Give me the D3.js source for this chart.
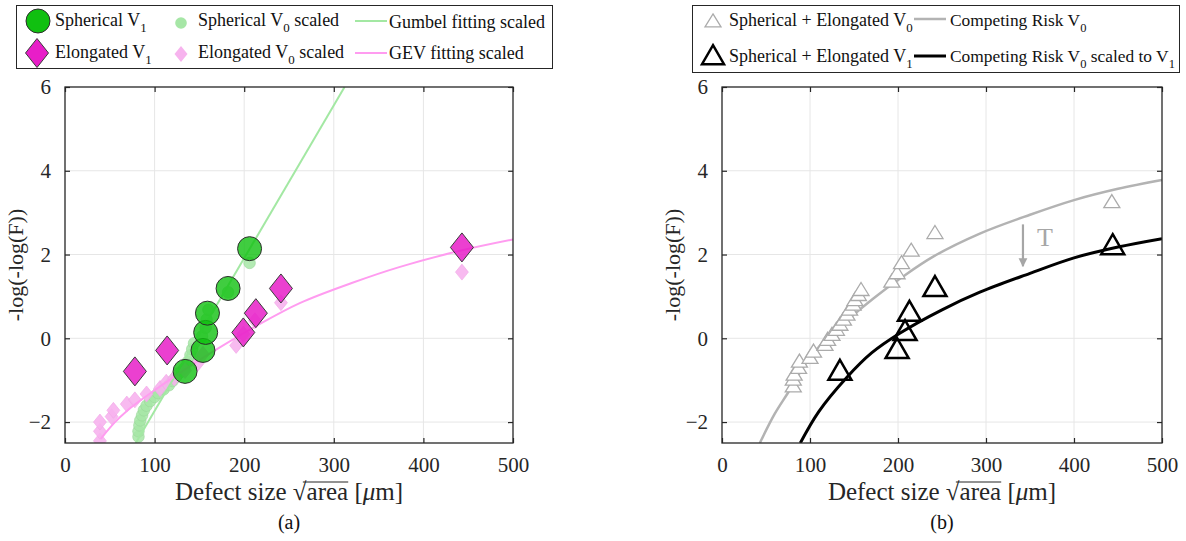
<!DOCTYPE html>
<html>
<head>
<meta charset="utf-8">
<script src="https://cdn.jsdelivr.net/npm/d3@7"></script>
<style>
  body { margin: 0; background: #fff; }
  svg, svg text { font-family: "Liberation Serif", "Times New Roman", "DejaVu Serif", serif; }
</style>
</head>
<body>
<div id="container"></div>
<script>
(function(){
//axis ticks
var xTicks = [0, 100, 200, 300, 400, 500];
var yTicks = [-2, 0, 2, 4, 6];

//panel (a) points: [defect size, -log(-log(F))]
var sphericalV1 = [[134,-0.79],[154,-0.29],[157,0.14],[159,0.6],[182,1.19],[206,2.14]];
var elongatedV1 = [[78,-0.79],[114,-0.29],[199,0.14],[213,0.6],[241,1.19],[443,2.17]];
var sphericalV0 = [[82,-2.35],[82,-2.22],[83,-2.08],[84,-1.96],[86,-1.84],[88,-1.72],[91,-1.61],
    [95,-1.5],[100,-1.4],[104,-1.31],[110,-1.22],[116,-1.12],[120,-1.02],[124,-0.92],[128,-0.82],
    [133,-0.72],[137,-0.56],[140,-0.4],[142,-0.26],[144,-0.12],[153,0.05],[157,0.25],[158,0.45],
    [160,0.68],[182,1.1],[206,1.8]];
var elongatedV0 = [[39,-2.45],[39,-2.22],[39,-2.0],[52,-1.87],[54,-1.72],[69,-1.57],[78,-1.47],
    [91,-1.33],[106,-1.2],[113,-1.05],[122,-0.95],[134,-0.77],[148,-0.6],[154,-0.38],[191,-0.17],
    [199,0.1],[212,0.42],[241,0.85],[443,1.58]];
var gumbelFit = [[79,-2.5],[312,6]];
var gevFit = [[40,-2.4],[55,-2.02],[70,-1.72],[85,-1.47],[106,-1.15],[130,-0.8],[165,-0.32],
    [214,0.3],[262,0.84],[320,1.32],[373,1.7],[443,2.1],[500,2.36]];

//panel (b) points
var combinedV0 = [[81,-1.16],[81,-1.0],[82,-0.88],[87,-0.72],[88,-0.57],[100,-0.48],[104,-0.33],
    [117,-0.17],[120,-0.05],[125,0.07],[130,0.19],[134,0.31],[138,0.43],[142,0.55],[145,0.67],
    [149,0.79],[151,0.9],[155,1.02],[158,1.14],[193,1.34],[199,1.54],[204,1.78],[215,2.08],
    [242,2.5],[443,3.24]];
var combinedV1 = [[134,-0.81],[199,-0.29],[208,0.14],[213,0.6],[242,1.19],[444,2.19]];
var competingV0 = [[43,-2.5],[60,-1.8],[75,-1.3],[100,-0.45],[130,0.2],[172,0.95],[204,1.45],
    [240,1.95],[293,2.5],[350,2.95],[400,3.3],[450,3.57],[500,3.78]];
var competingV1 = [[89,-2.5],[110,-1.75],[142,-0.93],[170,-0.35],[202,0.12],[250,0.68],[293,1.1],
    [350,1.55],[400,1.92],[450,2.18],[500,2.38]];
var shiftArrow = {x: 342, y0: 2.72, y1: 1.72, label: "T", lx: 358, ly: 2.2};

var width = 1186, height = 541;
var serif = "Liberation Serif, Times New Roman, DejaVu Serif, serif";
var svg = d3.select("#container").append("svg")
    .attr("width", width).attr("height", height)
    .attr("font-family", serif);

var top = 87, bottom = 443;
var panels = [{left: 65, right: 513, tag: "(a)"}, {left: 722, right: 1162, tag: "(b)"}];

var greenBig = "#10c010", magentaBig = "#e81ec8", greenSmall = "#a6e6a6", pinkSmall = "#f7b3ee";

function diamond(w, h){
    return "M0," + (-h) + "L" + w + ",0L0," + h + "L" + (-w) + ",0Z";
}
function triangle(w, h){
    return "M0," + (-h * 0.62) + "L" + w + "," + (h * 0.38) + "L" + (-w) + "," + (h * 0.38) + "Z";
}

//draw axes frame, grid, ticks and labels for one panel
function setPanel(p, id){
    var x = d3.scaleLinear().domain([0, 500]).range([p.left, p.right]);
    var y = d3.scaleLinear().domain([-2.5, 6]).range([bottom, top]);
    var g = svg.append("g");

    g.selectAll(".gx").data(xTicks.slice(1, -1)).enter().append("line")
        .attr("x1", x).attr("x2", x).attr("y1", top).attr("y2", bottom)
        .attr("stroke", "#e6e6e6").attr("stroke-width", 1);
    g.selectAll(".gy").data(yTicks.slice(0, -1)).enter().append("line")
        .attr("y1", y).attr("y2", y).attr("x1", p.left).attr("x2", p.right)
        .attr("stroke", "#e6e6e6").attr("stroke-width", 1);

    svg.append("clipPath").attr("id", "clip" + id).append("rect")
        .attr("x", p.left).attr("y", top).attr("width", p.right - p.left).attr("height", bottom - top);

    var plot = svg.append("g");
    var plotClip = svg.append("g").attr("clip-path", "url(#clip" + id + ")");

    var frame = svg.append("g");
    frame.append("g").attr("transform", "translate(0," + bottom + ")")
        .call(d3.axisBottom(x).tickValues(xTicks).tickSizeInner(-5).tickSizeOuter(0).tickPadding(14));
    frame.append("g").attr("transform", "translate(0," + top + ")")
        .call(d3.axisTop(x).tickValues(xTicks).tickSizeInner(-5).tickSizeOuter(0).tickFormat(""));
    frame.append("g").attr("transform", "translate(" + p.left + ",0)")
        .call(d3.axisLeft(y).tickValues(yTicks).tickSizeInner(-5).tickSizeOuter(0).tickPadding(14));
    frame.append("g").attr("transform", "translate(" + p.right + ",0)")
        .call(d3.axisRight(y).tickValues(yTicks).tickSizeInner(-5).tickSizeOuter(0).tickFormat(""));
    frame.selectAll(".domain").remove();
    frame.selectAll("g").attr("font-family", serif);
    frame.selectAll("line").attr("stroke", "#262626").attr("stroke-width", 1.2);
    frame.selectAll("text").attr("font-size", 21).attr("fill", "#262626");
    frame.append("rect").attr("x", p.left).attr("y", top)
        .attr("width", p.right - p.left).attr("height", bottom - top)
        .attr("fill", "none").attr("stroke", "#262626").attr("stroke-width", 1.3);

    //y label
    frame.append("text")
        .attr("transform", "translate(" + (p.left - 42) + "," + ((top + bottom) / 2) + ") rotate(-90)")
        .attr("text-anchor", "middle").attr("font-size", 22).attr("fill", "#262626")
        .text("-log(-log(F))");
    //x label, with a drawn bar over "area" for the square root
    var xl = frame.append("text")
        .attr("x", (p.left + p.right) / 2).attr("y", 500)
        .attr("text-anchor", "middle").attr("font-size", 25).attr("fill", "#262626");
    xl.append("tspan").text("Defect size \u221Aarea [");
    xl.append("tspan").attr("font-style", "italic").text("\u03BC");
    xl.append("tspan").text("m]");
    var node = xl.node();
    var x0 = node.getStartPositionOfChar(12).x + 10, x1 = node.getEndPositionOfChar(16).x;
    frame.append("line").attr("x1", x0).attr("x2", x1).attr("y1", 482).attr("y2", 482)
        .attr("stroke", "#262626").attr("stroke-width", 1.2);

    svg.append("text").attr("x", (p.left + p.right) / 2).attr("y", 529)
        .attr("text-anchor", "middle").attr("font-size", 20).attr("fill", "#111")
        .text(p.tag);

    return {x: x, y: y, plot: plot, clip: plotClip};
}

var a = setPanel(panels[0], "a");
var b = setPanel(panels[1], "b");

var line = function(sc){
    return d3.line().x(function(d){ return sc.x(d[0]); }).y(function(d){ return sc.y(d[1]); })
        .curve(d3.curveCatmullRom.alpha(0.5));
};

//---------- panel (a)
a.clip.selectAll(".sV0").data(sphericalV0).enter().append("circle")
    .attr("cx", function(d){ return a.x(d[0]); }).attr("cy", function(d){ return a.y(d[1]); })
    .attr("r", 5.8).attr("fill", greenSmall).attr("fill-opacity", 0.85)
    .attr("stroke", "#9ad69a").attr("stroke-width", 0.6);
a.clip.selectAll(".eV0").data(elongatedV0).enter().append("path")
    .attr("transform", function(d){ return "translate(" + a.x(d[0]) + "," + a.y(d[1]) + ")"; })
    .attr("d", diamond(6.5, 8)).attr("fill", pinkSmall).attr("fill-opacity", 0.9)
    .attr("stroke", "#f0a6e6").attr("stroke-width", 0.6);
a.clip.append("path").datum(gumbelFit).attr("d", line(a))
    .attr("fill", "none").attr("stroke", "#a3e8a3").attr("stroke-width", 2);
a.clip.append("path").datum(gevFit).attr("d", line(a))
    .attr("fill", "none").attr("stroke", "#ff9cf0").attr("stroke-width", 2);
a.clip.selectAll(".sV1").data(sphericalV1).enter().append("circle")
    .attr("cx", function(d){ return a.x(d[0]); }).attr("cy", function(d){ return a.y(d[1]); })
    .attr("r", 12).attr("fill", greenBig).attr("fill-opacity", 0.8)
    .attr("stroke", "#2d2d2d").attr("stroke-width", 1);
a.clip.selectAll(".eV1").data(elongatedV1).enter().append("path")
    .attr("transform", function(d){ return "translate(" + a.x(d[0]) + "," + a.y(d[1]) + ")"; })
    .attr("d", diamond(11.5, 14.5)).attr("fill", magentaBig).attr("fill-opacity", 0.85)
    .attr("stroke", "#3a3a3a").attr("stroke-width", 1);

//---------- panel (b)
b.clip.append("path").datum(competingV0).attr("d", line(b))
    .attr("fill", "none").attr("stroke", "#b3b3b3").attr("stroke-width", 2.5);
b.clip.append("path").datum(competingV1).attr("d", line(b))
    .attr("fill", "none").attr("stroke", "#000").attr("stroke-width", 3);
b.clip.selectAll(".cV0").data(combinedV0).enter().append("path")
    .attr("transform", function(d){ return "translate(" + b.x(d[0]) + "," + b.y(d[1]) + ")"; })
    .attr("d", triangle(8, 13)).attr("fill", "#fff").attr("stroke", "#ababab").attr("stroke-width", 1.3);
b.clip.selectAll(".cV1").data(combinedV1).enter().append("path")
    .attr("transform", function(d){ return "translate(" + b.x(d[0]) + "," + b.y(d[1]) + ")"; })
    .attr("d", triangle(11.5, 20)).attr("fill", "none").attr("stroke", "#000").attr("stroke-width", 2.5);

//arrow for the shift T
svg.append("defs").append("marker").attr("id", "arrowhead")
    .attr("viewBox", "0 0 10 10").attr("refX", 9).attr("refY", 5)
    .attr("markerWidth", 4).attr("markerHeight", 5).attr("orient", "auto")
    .append("path").attr("d", "M0,0L10,5L0,10Z").attr("fill", "#a6a6a6");
b.plot.append("line")
    .attr("x1", b.x(shiftArrow.x)).attr("x2", b.x(shiftArrow.x))
    .attr("y1", b.y(shiftArrow.y0)).attr("y2", b.y(shiftArrow.y1))
    .attr("stroke", "#a6a6a6").attr("stroke-width", 2.2).attr("marker-end", "url(#arrowhead)");
b.plot.append("text").attr("x", b.x(shiftArrow.lx)).attr("y", b.y(shiftArrow.ly))
    .attr("font-size", 26).attr("fill", "#a6a6a6").text(shiftArrow.label);

//---------- legends
function subText(g, x, y, main, sub, tail, fs){
    fs = fs || 18;
    var t = g.append("text").attr("x", x).attr("y", y).attr("font-size", fs).attr("fill", "#111");
    t.append("tspan").text(main);
    t.append("tspan").attr("font-size", fs * 0.72).attr("dy", 6).text(sub);
    if (tail) t.append("tspan").attr("dy", -6).text(tail);
    return t;
}

var la = svg.append("g");
la.append("rect").attr("x", 16.5).attr("y", 5.5).attr("width", 536).attr("height", 63)
    .attr("fill", "#fff").attr("stroke", "#262626").attr("stroke-width", 1);
la.append("circle").attr("cx", 38).attr("cy", 21).attr("r", 12)
    .attr("fill", greenBig).attr("stroke", "#2d2d2d");
la.append("path").attr("transform", "translate(37,53)").attr("d", diamond(11.5, 14.5))
    .attr("fill", magentaBig).attr("stroke", "#3a3a3a");
la.append("circle").attr("cx", 181).attr("cy", 23).attr("r", 5.8).attr("fill", greenSmall);
la.append("path").attr("transform", "translate(181,54)").attr("d", diamond(6.5, 8)).attr("fill", pinkSmall);
la.append("line").attr("x1", 355).attr("x2", 387).attr("y1", 21).attr("y2", 21)
    .attr("stroke", "#a3e8a3").attr("stroke-width", 2);
la.append("line").attr("x1", 355).attr("x2", 387).attr("y1", 53).attr("y2", 53)
    .attr("stroke", "#ff9cf0").attr("stroke-width", 2);
subText(la, 55, 26, "Spherical V", "1");
subText(la, 55, 58, "Elongated V", "1");
subText(la, 198, 26, "Spherical V", "0", " scaled");
subText(la, 198, 58, "Elongated V", "0", " scaled");
la.append("text").attr("x", 389).attr("y", 28).attr("font-size", 18).attr("fill", "#111").text("Gumbel fitting scaled");
la.append("text").attr("x", 389).attr("y", 59).attr("font-size", 18).attr("fill", "#111").text("GEV fitting scaled");

var lb = svg.append("g");
lb.append("rect").attr("x", 692.5).attr("y", 5.5).attr("width", 487).attr("height", 67)
    .attr("fill", "#fff").attr("stroke", "#262626").attr("stroke-width", 1);
lb.append("path").attr("transform", "translate(713,22)").attr("d", triangle(8, 13))
    .attr("fill", "#fff").attr("stroke", "#ababab").attr("stroke-width", 1.3);
lb.append("path").attr("transform", "translate(713,57)").attr("d", triangle(11, 19))
    .attr("fill", "none").attr("stroke", "#000").attr("stroke-width", 2.5);
lb.append("line").attr("x1", 914).attr("x2", 946).attr("y1", 19).attr("y2", 19)
    .attr("stroke", "#b3b3b3").attr("stroke-width", 2.5);
lb.append("line").attr("x1", 914).attr("x2", 946).attr("y1", 56).attr("y2", 56)
    .attr("stroke", "#000").attr("stroke-width", 3);
subText(lb, 729, 26, "Spherical + Elongated V", "0", null, 18);
subText(lb, 729, 62, "Spherical + Elongated V", "1", null, 18);
subText(lb, 950, 26, "Competing Risk V", "0", null, 17.4);
var last = subText(lb, 950, 62, "Competing Risk V", "0", " scaled to V", 17.4);
last.append("tspan").attr("font-size", 12.5).attr("dy", 6).text("1");
})();
</script>
</body>
</html>
